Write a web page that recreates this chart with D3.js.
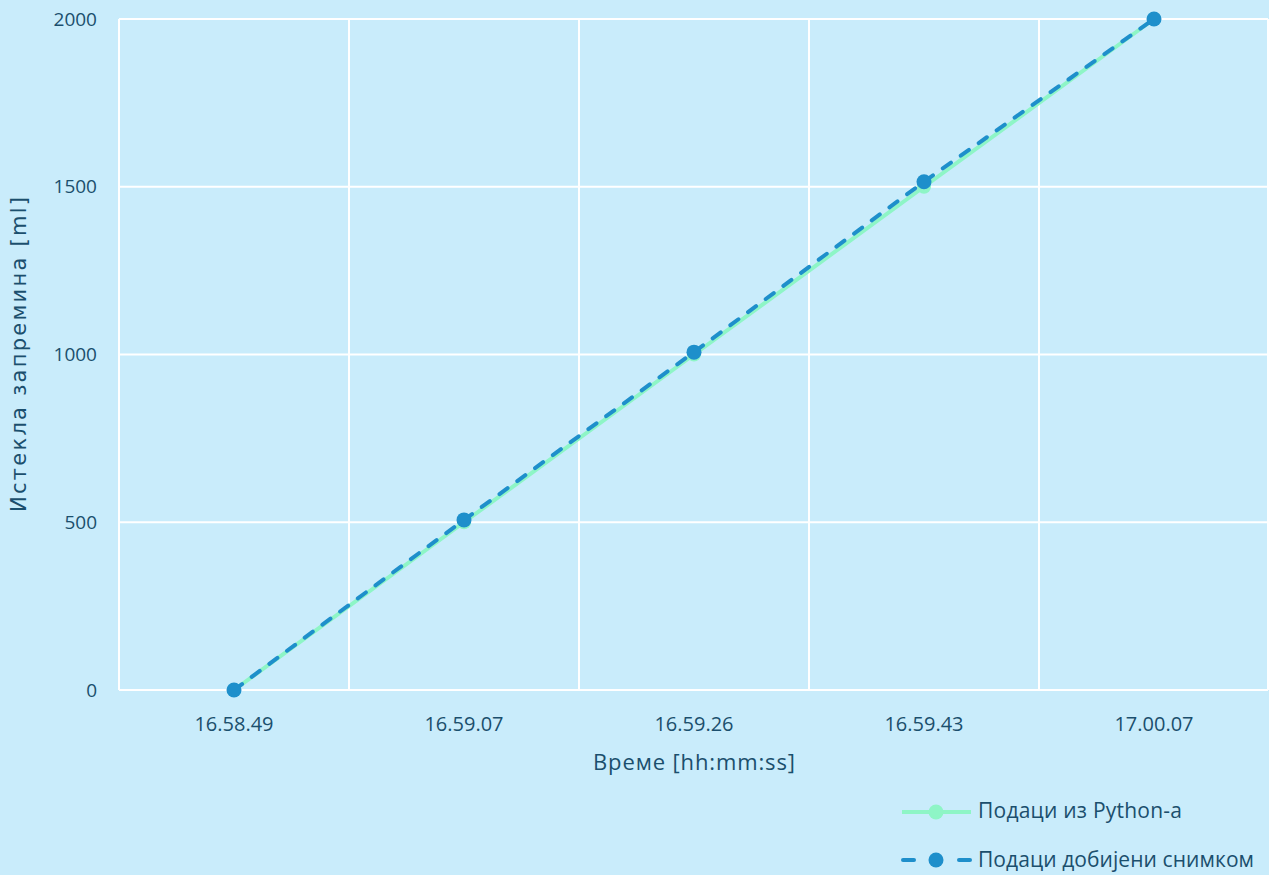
<!DOCTYPE html>
<html>
<head>
<meta charset="utf-8">
<script src="https://cdn.jsdelivr.net/npm/d3@7"></script>
<style>
  html, body { margin: 0; padding: 0; background: #c9ecfb; }
  svg { display: block; }
  text { fill: #1b4f6d; }
</style>
</head>
<body>
<svg id="chart" width="1269" height="875"></svg>
<script>
// Measurement times (hh.mm.ss)
const categories = ["16.58.49", "16.59.07", "16.59.26", "16.59.43", "17.00.07"];
// Drained volume [ml] computed by the Python script
const pythonValues = [0, 500, 1000, 1500, 2000];
// Drained volume [ml] read from the recording
const photoValues = [0, 507, 1007, 1515, 2000];
const yTicks = [0, 500, 1000, 1500, 2000];

const seriesNames = ["Подаци из Python-а", "Подаци добијени снимком"];
const xTitle = "Време [hh:mm:ss]";
const yTitle = "Истекла запремина [ml]";

const W = 1269, H = 875;
const margin = { top: 19, right: 0, bottom: 185, left: 119 };
const svg = d3.select("#chart");
const font = "'Open Sans', sans-serif";

svg.append("rect").attr("width", W).attr("height", H).attr("fill", "#c9ecfb");

const x = d3.scaleBand().domain(categories)
  .range([margin.left, W - margin.right]).padding(0);
const y = d3.scaleLinear().domain([0, 2000])
  .range([H - margin.bottom, margin.top]);

const grid = svg.append("g");
// horizontal gridlines
grid.selectAll("line.h").data(yTicks).join("line")
  .attr("x1", margin.left).attr("x2", W - 1)
  .attr("y1", d => y(d)).attr("y2", d => y(d))
  .attr("stroke", "#ffffff").attr("stroke-width", 2);
// vertical gridlines at band edges
const edges = categories.map(c => x(c)).concat([W - 1]);
grid.selectAll("line.v").data(edges).join("line")
  .attr("x1", d => d).attr("x2", d => d)
  .attr("y1", margin.top).attr("y2", H - margin.bottom)
  .attr("stroke", "#ffffff").attr("stroke-width", 2);

// y axis labels
const yAxis = d3.axisLeft(y).tickValues(yTicks).tickFormat(d3.format("d"))
  .tickSize(0).tickPadding(22);
svg.append("g").attr("transform", `translate(${margin.left},0)`).call(yAxis)
  .call(g => g.select(".domain").remove())
  .call(g => g.selectAll("text").attr("font-family", font)
    .attr("font-size", 19).attr("fill", "#1b4f6d"));

// x axis labels
const xAxis = d3.axisBottom(x).tickSize(0).tickPadding(27);
svg.append("g").attr("transform", `translate(0,${H - margin.bottom})`).call(xAxis)
  .call(g => g.select(".domain").remove())
  .call(g => g.selectAll("text").attr("font-family", font)
    .attr("font-size", 20).attr("fill", "#1b4f6d"));

// axis titles
svg.append("text").attr("x", x.range()[0] + (x.range()[1] - x.range()[0]) / 2).attr("y", 770)
  .attr("text-anchor", "middle").attr("font-family", font)
  .attr("font-size", 22).attr("textLength", 202).attr("lengthAdjust", "spacing")
  .text(xTitle);
svg.append("text").attr("transform", `translate(26,${(y(0) + y(2000)) / 2}) rotate(-90)`)
  .attr("text-anchor", "middle").attr("font-family", "'DejaVu Sans', sans-serif")
  .attr("font-size", 21).attr("textLength", 315).attr("lengthAdjust", "spacing")
  .text(yTitle);

const cx = c => x(c) + x.bandwidth() / 2;
const line = d3.line().x(d => cx(d.c)).y(d => y(d.v));

const green = "#8ef5c6", blue = "#1e8fcb";
const pyData = categories.map((c, i) => ({ c, v: pythonValues[i] }));
const phData = categories.map((c, i) => ({ c, v: photoValues[i] }));

// Python series: solid green
svg.append("path").datum(pyData).attr("d", line)
  .attr("fill", "none").attr("stroke", green).attr("stroke-width", 4);
svg.selectAll("circle.py").data(pyData).join("circle")
  .attr("cx", d => cx(d.c)).attr("cy", d => y(d.v)).attr("r", 7).attr("fill", green);

// Recording series: dashed blue
svg.append("path").datum(phData).attr("d", line)
  .attr("fill", "none").attr("stroke", blue).attr("stroke-width", 4)
  .attr("stroke-dasharray", "10,12").attr("stroke-linecap", "round");
svg.selectAll("circle.ph").data(phData).join("circle")
  .attr("cx", d => cx(d.c)).attr("cy", d => y(d.v)).attr("r", 7.5).attr("fill", blue);

// legend
const legend = svg.append("g");
const ly = [812, 860];
legend.append("line").attr("x1", 902).attr("x2", 971).attr("y1", ly[0]).attr("y2", ly[0])
  .attr("stroke", green).attr("stroke-width", 4);
legend.append("circle").attr("cx", 936).attr("cy", ly[0]).attr("r", 7.5).attr("fill", green);
legend.append("line").attr("x1", 903).attr("x2", 914).attr("y1", ly[1]).attr("y2", ly[1])
  .attr("stroke", blue).attr("stroke-width", 4).attr("stroke-linecap", "round");
legend.append("line").attr("x1", 959).attr("x2", 970).attr("y1", ly[1]).attr("y2", ly[1])
  .attr("stroke", blue).attr("stroke-width", 4).attr("stroke-linecap", "round");
legend.append("circle").attr("cx", 936).attr("cy", ly[1]).attr("r", 7.5).attr("fill", blue);
const legendLen = [204, 276];
legend.selectAll("text").data(seriesNames).join("text")
  .attr("x", 978).attr("y", (d, i) => [818, 867][i])
  .attr("font-family", font).attr("font-size", 21)
  .attr("textLength", (d, i) => legendLen[i]).attr("lengthAdjust", "spacing")
  .text(d => d);
</script>
</body>
</html>
